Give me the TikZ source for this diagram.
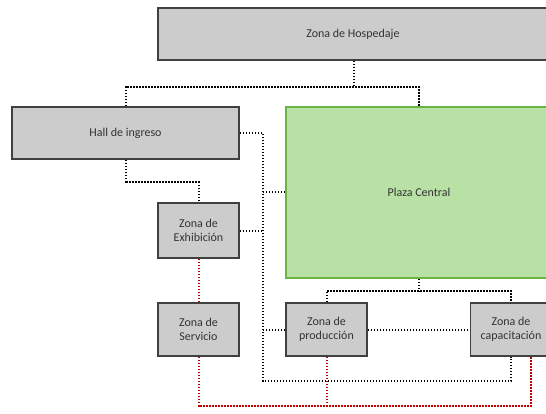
\documentclass[tikz,border=0pt]{standalone}
\usepackage{fontspec}
\setmainfont{Carlito}
\usetikzlibrary{calc}

\definecolor{boxgray}{HTML}{CCCCCC}
\definecolor{boxline}{HTML}{404040}
\definecolor{plazafill}{HTML}{B9E0A5}
\definecolor{plazaline}{HTML}{6AB446}
\definecolor{reddot}{HTML}{C00000}
\definecolor{textgray}{HTML}{333333}

\begin{document}
\begin{tikzpicture}[x=1pt,y=-1pt,
  font=\fontsize{12}{13.5}\selectfont,
  zona/.style={draw=boxline, fill=boxgray, line width=1.8pt, inner sep=0pt,
    align=center, text=textgray},
  plaza/.style={draw=plazaline, fill=plazafill, line width=1.8pt, inner sep=0pt,
    text=textgray},
  link/.style={line width=2pt, dash pattern=on 1.5pt off 1.5pt},
  redlink/.style={link, reddot}]

\useasboundingbox (0,0) rectangle (546,414);

\node[zona, minimum width=390pt, minimum height=52pt] (hosp) at (353,34) {Zona de Hospedaje};
\node[zona, minimum width=227pt, minimum height=52pt] (hall) at (125.5,133) {Hall de ingreso};
\node[plaza, minimum width=266pt, minimum height=171pt] (plaza) at (419,192.5) {Plaza Central};

\node[zona, minimum width=81pt, minimum height=55pt] (exhib) at (198.5,230.5) {Zona de\\Exhibición};
\node[zona, minimum width=81pt, minimum height=53pt] (serv) at (198.5,329.5) {Zona de\\Servicio};
\node[zona, minimum width=81pt, minimum height=53pt] (prod) at (326.5,329.5) {Zona de\\producción};
\node[zona, minimum width=81pt, minimum height=53pt] (capa) at (511,329.5) {Zona de\\capacitación};

\coordinate (top) at (354,87);
\coordinate (mid) at (125,182);
\coordinate (low) at (419,291);
\coordinate (spine) at (263,381);
\coordinate (redbot) at (198.5,406);

% conexiones
\draw[link] (hosp.south -| top) -- (top);
\draw[link] (hall.north) |- (top) -| (plaza.north);
\draw[link] (hall.south) |- (mid) -| (exhib.north);
\draw[link] (hall.east) -| (spine) -| (capa.south);
\draw[link] (plaza.west) -- (plaza.west -| spine);
\draw[link] (exhib.east) -- (exhib.east -| spine);
\draw[link] (prod.west) -- (prod.west -| spine);
\draw[link] (prod.east) -- (capa.west);
\draw[link] (plaza.south) -- (low);
\draw[link] (prod.north) |- (low) -| (capa.north);

\draw[redlink] (exhib.south) -- (serv.north);
\draw[redlink] (serv.south) |- (redbot) -| ([xshift=20pt]capa.south);
\draw[redlink] (prod.south) -- (prod.south |- redbot);

\end{tikzpicture}
\end{document}
